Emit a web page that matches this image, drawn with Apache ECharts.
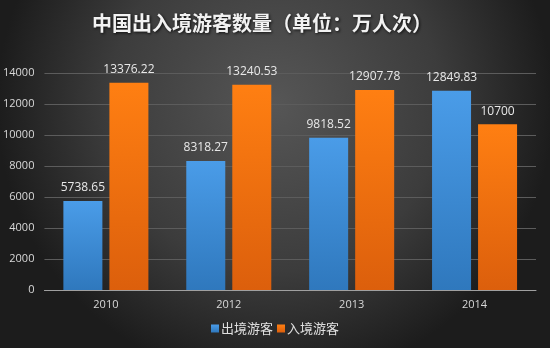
<!DOCTYPE html>
<html><head><meta charset="utf-8">
<script src="https://cdn.jsdelivr.net/npm/echarts@6/dist/echarts.min.js"></script>
<style>html,body{margin:0;padding:0;background:#2a2a2a;}#c{width:550px;height:348px;}</style>
</head><body><div id="c"></div>
<script>
var categories = ['2010', '2012', '2013', '2014'];
var outbound = [5738.65, 8318.27, 9818.52, 12849.83];
var inbound = [13376.22, 13240.53, 12907.78, 10700];
var seriesNames = ['出境游客', '入境游客'];
var titleText = '中国出入境游客数量（单位：万人次）';

var chart = echarts.init(document.getElementById('c'));
var lblStyle = {show: true, position: 'top', color: '#e8e8e8', fontSize: 12, fontFamily: 'Open Sans, sans-serif', distance: 7};
chart.setOption({
  backgroundColor: {type: 'radial', x: 0.5, y: 0.3, r: 0.8, colorStops: [
    {offset: 0, color: '#565656'}, {offset: 0.6, color: '#3c3c3c'}, {offset: 1, color: '#1c1c1c'}]},
  title: {text: titleText, left: 257, top: 8, textAlign: 'center',
    textStyle: {color: '#f2f2f2', fontSize: 20, fontWeight: 'bold', fontFamily: 'Noto Sans CJK SC',
      textShadowColor: 'rgba(0,0,0,0.8)', textShadowBlur: 3, textShadowOffsetX: 1, textShadowOffsetY: 1}},
  legend: {top: 322, left: 'center', itemWidth: 8, itemHeight: 8, itemGap: 4,
    icon: 'rect', textStyle: {color: '#e0e0e0', fontSize: 13, fontFamily: 'Noto Sans CJK SC', padding: [0, 0, 0, -3]}, padding: 0},
  grid: {left: 43, right: 14, top: 73, bottom: 58, containLabel: false},
  xAxis: {type: 'category', data: categories,
    axisLine: {lineStyle: {color: '#a0a0a0', width: 1}}, axisTick: {show: false},
    axisLabel: {color: '#d8d8d8', fontSize: 11, margin: 9, fontFamily: 'Open Sans, sans-serif'}},
  yAxis: {type: 'value', min: 0, max: 14000, interval: 2000,
    axisLine: {show: false}, axisTick: {show: false},
    axisLabel: {color: '#d8d8d8', fontSize: 11, margin: 10, fontFamily: 'Open Sans, sans-serif',
      formatter: function (v) { return String(v); }},
    splitLine: {lineStyle: {color: '#5c5c5c', width: 1}}},
  series: [
    {name: seriesNames[0], type: 'bar', data: outbound, barWidth: 39, barGap: '18%',
      itemStyle: {color: {type: 'linear', x: 0, y: 0, x2: 0, y2: 1, colorStops: [
        {offset: 0, color: '#4a9ce8'}, {offset: 1, color: '#2f78bd'}]}},
      label: lblStyle},
    {name: seriesNames[1], type: 'bar', data: inbound, barWidth: 39,
      itemStyle: {color: {type: 'linear', x: 0, y: 0, x2: 0, y2: 1, colorStops: [
        {offset: 0, color: '#ff7f12'}, {offset: 1, color: '#dc5f0c'}]}},
      label: lblStyle}
  ]
});
</script></body></html>
